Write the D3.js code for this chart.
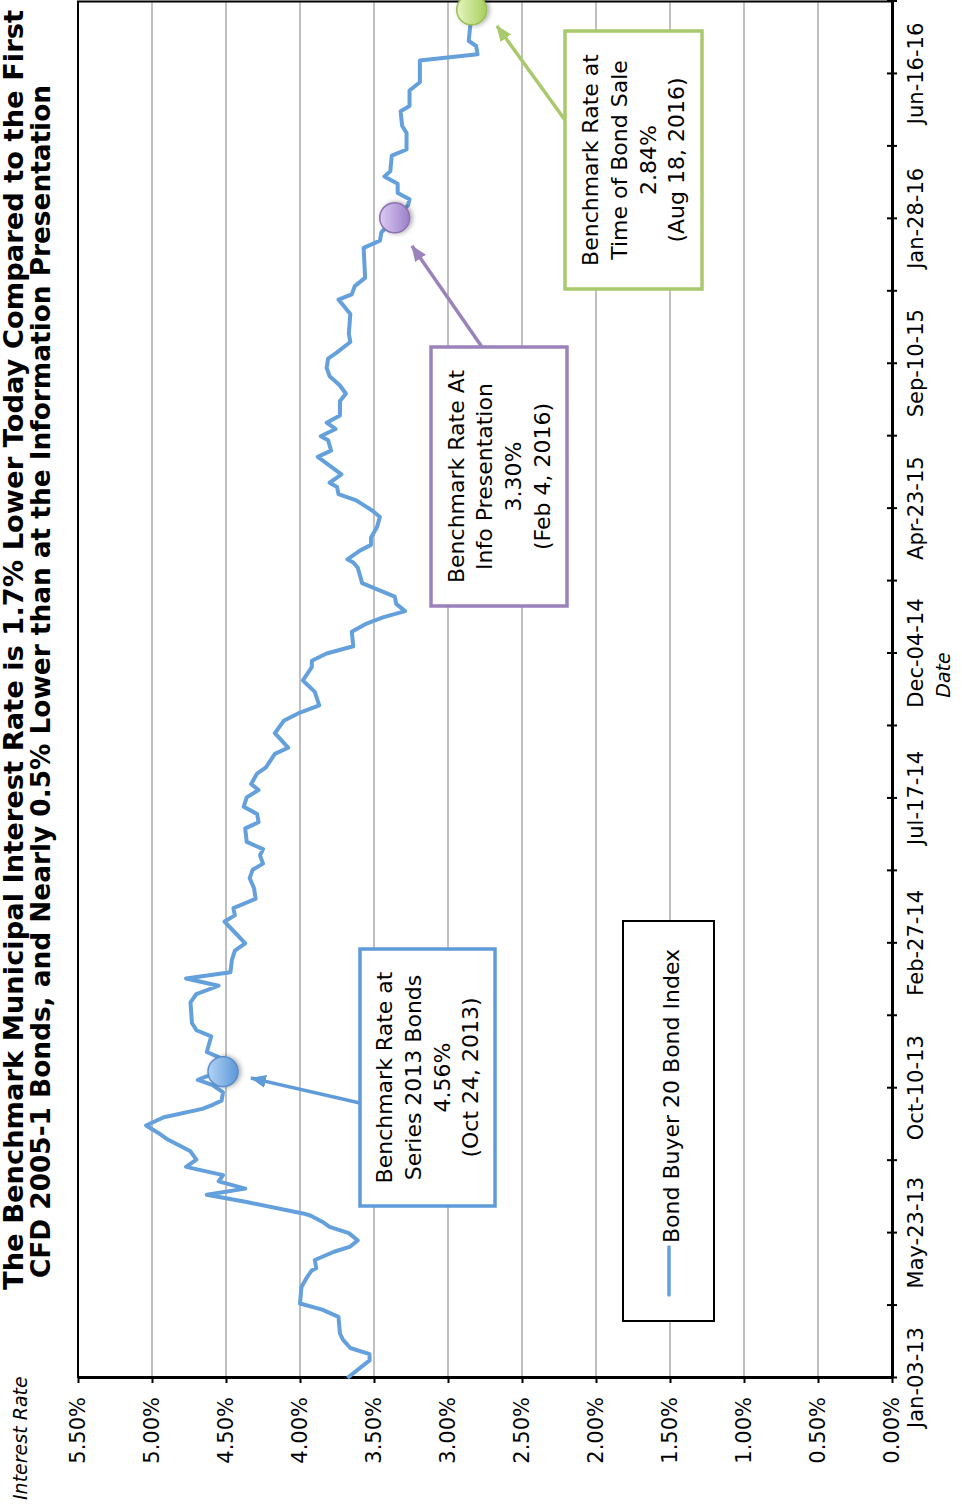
<!DOCTYPE html>
<html>
<head>
<meta charset="utf-8">
<script src="https://cdn.jsdelivr.net/npm/d3@7"></script>
<style>
  body { margin: 0; background: #fff; }
  svg { display: block; }
  text { font-family: "DejaVu Sans", sans-serif; }
</style>
</head>
<body>
<div id="chart"></div>
<script>
// Bond Buyer 20 index: days after Jan-03-13 and rate in %
var startDate = new Date(2013, 0, 3);
var dayOffsets = [
  0, 17, 23, 29, 37, 43, 59, 66, 72, 88,
  98, 104, 106, 114, 122, 127, 133, 140, 146, 151,
  157, 159, 170, 177, 183, 190, 196, 204, 211, 219,
  231, 237, 244, 252, 260, 264, 268, 276, 283, 288,
  291, 296, 310, 315, 330, 336, 343, 363, 371, 379,
  386, 392, 404, 413, 420, 429, 441, 447, 454, 463,
  473, 483, 491, 497, 505, 511, 518, 531, 537, 545,
  552, 561, 568, 574, 584, 590, 603, 609, 623, 635,
  643, 650, 663, 674, 687, 693, 700, 707, 721, 729,
  735, 741, 748, 755, 768, 783, 788, 791, 799, 805,
  812, 822, 832, 838, 848, 854, 861, 865, 873, 890,
  896, 906, 910, 917, 923, 930, 944, 951, 959, 968,
  976, 985, 991, 1001, 1009, 1028, 1042, 1047, 1055, 1063,
  1092, 1099, 1107, 1121, 1133, 1139, 1145, 1154, 1161, 1166,
  1181, 1187, 1197, 1203, 1210, 1224, 1229, 1244, 1252, 1273,
  1279, 1287, 1292, 1306, 1322
];
var rates = [
  3.68, 3.53, 3.53, 3.66, 3.71, 3.73, 3.74, 3.85, 4.00, 3.99,
  3.95, 3.92, 3.89, 3.90, 3.77, 3.66, 3.61, 3.67, 3.80, 3.85,
  3.93, 3.98, 4.36, 4.63, 4.37, 4.55, 4.52, 4.77, 4.70, 4.74,
  4.90, 4.96, 5.04, 4.92, 4.66, 4.59, 4.53, 4.52, 4.59, 4.69,
  4.64, 4.52, 4.55, 4.63, 4.60, 4.70, 4.73, 4.74, 4.70, 4.55,
  4.77, 4.47, 4.46, 4.44, 4.37, 4.43, 4.51, 4.44, 4.45, 4.30,
  4.31, 4.34, 4.32, 4.25, 4.27, 4.25, 4.36, 4.37, 4.28, 4.29,
  4.38, 4.36, 4.28, 4.33, 4.29, 4.23, 4.17, 4.08, 4.17, 4.11,
  4.00, 3.87, 3.90, 3.98, 3.92, 3.92, 3.82, 3.64, 3.65, 3.55,
  3.44, 3.29, 3.35, 3.36, 3.58, 3.61, 3.64, 3.68, 3.60, 3.52,
  3.52, 3.48, 3.46, 3.51, 3.62, 3.74, 3.75, 3.80, 3.72, 3.88,
  3.79, 3.81, 3.86, 3.76, 3.82, 3.73, 3.73, 3.69, 3.73, 3.80,
  3.82, 3.81, 3.75, 3.66, 3.67, 3.66, 3.74, 3.65, 3.63, 3.56,
  3.57, 3.46, 3.45, 3.36, 3.27, 3.26, 3.34, 3.34, 3.43, 3.39,
  3.38, 3.28, 3.28, 3.28, 3.31, 3.32, 3.26, 3.26, 3.19, 3.19,
  2.80, 2.81, 2.86, 2.85, 2.84
];

var rateTicks = [0, 0.5, 1, 1.5, 2, 2.5, 3, 3.5, 4, 4.5, 5, 5.5];
var dateTickOffsets = d3.range(0, 1331, 70);   // a tick every 70 days, label every other one
var endOffset = 1330;

var seriesName = "Bond Buyer 20 Bond Index";
var calloutDays = [296, 1121, 1322];
var calloutRates = [4.52, 3.36, 2.84];
var calloutText = [
  ["Benchmark Rate at", "Series 2013 Bonds", "4.56%", "(Oct 24, 2013)"],
  ["Benchmark Rate At", "Info Presentation", "3.30%", "(Feb 4, 2016)"],
  ["Benchmark Rate at", "Time of Bond Sale", "2.84%", "(Aug 18, 2016)"]
];
var titleLines = [
  "The Benchmark Municipal Interest Rate is 1.7% Lower Today Compared to the First",
  "CFD 2005-1 Bonds, and Nearly 0.5% Lower than at the Information Presentation"
];

var data = dayOffsets.map(function (d, i) {
  return { date: d3.timeDay.offset(startDate, d), rate: rates[i] };
});

// the chart is drawn landscape and then turned a quarter turn to the left
var svg = d3.select("#chart").append("svg")
  .attr("width", 962)
  .attr("height", 1505);
var defs = svg.append("defs");
var g = svg.append("g").attr("transform", "translate(0,1505) rotate(-90)");

var x = d3.scaleTime()
  .domain([startDate, d3.timeDay.offset(startDate, endOffset)])
  .range([127, 1503.5]);
var y = d3.scaleLinear().domain([0, 5.5]).range([892, 78]);

var lineColor = "#64a0dc";
var styles = [
  { stroke: "#5f9bd8", light: "#b3d3f6", dark: "#5b97d6", ring: "#5a8ccb" },
  { stroke: "#9a82bb", light: "#dccbf2", dark: "#9c7fc8", ring: "#8a70b0" },
  { stroke: "#a8c96c", light: "#e6f5c0", dark: "#a6cf5c", ring: "#9abd56" }
];

// gradients and a soft shadow for the callout dots
styles.forEach(function (s, i) {
  var lg = defs.append("linearGradient").attr("id", "dot" + i)
    .attr("x1", 0).attr("y1", 0).attr("x2", 0).attr("y2", 1);
  lg.append("stop").attr("offset", "0%").attr("stop-color", s.light);
  lg.append("stop").attr("offset", "100%").attr("stop-color", s.dark);
  defs.append("marker").attr("id", "arrow" + i)
    .attr("markerUnits", "userSpaceOnUse")
    .attr("viewBox", "0 -7 16 14")
    .attr("refX", 15).attr("refY", 0)
    .attr("markerWidth", 16).attr("markerHeight", 14)
    .attr("orient", "auto")
    .append("path").attr("d", "M0,-6.5L16,0L0,6.5Z").attr("fill", s.stroke);
});
var shadow = defs.append("filter").attr("id", "shadow")
  .attr("x", "-50%").attr("y", "-50%").attr("width", "200%").attr("height", "200%");
shadow.append("feDropShadow").attr("dx", 0).attr("dy", 2).attr("stdDeviation", 2.5)
  .attr("flood-color", "#000").attr("flood-opacity", 0.35);

// horizontal gridlines
g.append("g").selectAll("line")
  .data(rateTicks.filter(function (t) { return t > 0 && t < 5.5; }))
  .enter().append("line")
  .attr("x1", x.range()[0]).attr("x2", x.range()[1])
  .attr("y1", function (d) { return y(d); })
  .attr("y2", function (d) { return y(d); })
  .attr("stroke", "#bfbfbf").attr("stroke-width", 2);

// box on top and right
g.append("path")
  .attr("d", "M" + x.range()[0] + "," + y(5.5) + "H" + x.range()[1] + "V" + y(0))
  .attr("fill", "none").attr("stroke", "#000").attr("stroke-width", 2);

// value axis
var yAxis = d3.axisLeft(y)
  .tickValues(rateTicks)
  .tickFormat(function (d) { return d.toFixed(2) + "%"; })
  .tickSize(5).tickSizeOuter(0).tickPadding(14);
var ya = g.append("g").attr("transform", "translate(" + x.range()[0] + ",0)").call(yAxis);
ya.selectAll("text").attr("font-family", "DejaVu Sans").attr("font-size", 21).attr("fill", "#000");
ya.select(".domain").attr("stroke-width", 3);
ya.selectAll(".tick line").attr("stroke-width", 2);
ya.attr("font-family", null).attr("font-size", null);

// date axis
var fmt = d3.timeFormat("%b-%d-%y");
var xAxis = d3.axisBottom(x)
  .tickValues(dateTickOffsets.map(function (d) { return d3.timeDay.offset(startDate, d); }))
  .tickFormat(function (d, i) { return i % 2 === 0 ? fmt(d) : ""; })
  .tickSize(5).tickSizeOuter(0).tickPadding(11);
var xa = g.append("g").attr("transform", "translate(0," + y(0) + ")").call(xAxis);
xa.selectAll("text").attr("font-family", "DejaVu Sans").attr("font-size", 21).attr("fill", "#000");
xa.select(".domain").attr("stroke-width", 3);
xa.selectAll(".tick line").attr("y1", -5).attr("stroke-width", 2);
xa.attr("font-family", null).attr("font-size", null);

// axis titles
g.append("text").attr("x", 5).attr("y", 27)
  .attr("font-size", 19).attr("font-style", "italic")
  .text("Interest Rate");
g.append("text").attr("x", 830).attr("y", 950)
  .attr("text-anchor", "middle")
  .attr("font-size", 19).attr("font-style", "italic")
  .text("Date");

// the index line
g.append("path")
  .datum(data)
  .attr("fill", "none")
  .attr("stroke", lineColor)
  .attr("stroke-width", 4)
  .attr("stroke-linejoin", "round")
  .attr("d", d3.line()
    .x(function (d) { return x(d.date); })
    .y(function (d) { return y(d.rate); }));

// callout boxes, arrows and dots (box layout in px of the landscape frame)
var boxes = [
  { x0: 299, x1: 556, y0: 360, y1: 495, from: [402, 360], to: [427, 251] },
  { x0: 899, x1: 1158, y0: 431, y1: 567, from: [1158, 482], to: [1259, 412] },
  { x0: 1216, x1: 1474, y0: 565, y1: 702, from: [1385, 565], to: [1479, 497] }
];

boxes.forEach(function (b, i) {
  var s = styles[i];
  g.append("line")
    .attr("x1", b.from[0]).attr("y1", b.from[1])
    .attr("x2", b.to[0]).attr("y2", b.to[1])
    .attr("stroke", s.stroke).attr("stroke-width", 3.5)
    .attr("marker-end", "url(#arrow" + i + ")");
  g.append("rect")
    .attr("x", b.x0).attr("y", b.y0)
    .attr("width", b.x1 - b.x0).attr("height", b.y1 - b.y0)
    .attr("fill", "#fff").attr("stroke", s.stroke).attr("stroke-width", 3.5);
  var cx = (b.x0 + b.x1) / 2, cy = (b.y0 + b.y1) / 2;
  var t = g.append("text").attr("text-anchor", "middle").attr("font-size", 22);
  calloutText[i].forEach(function (line, k) {
    t.append("tspan").attr("x", cx)
      .attr("y", cy + (k - 1.5) * 28.8)
      .attr("dy", "0.35em")
      .text(line);
  });
});

g.append("g").selectAll("circle")
  .data(calloutDays)
  .enter().append("circle")
  .attr("cx", function (d) { return x(d3.timeDay.offset(startDate, d)); })
  .attr("cy", function (d, i) { return y(calloutRates[i]); })
  .attr("r", 15)
  .attr("fill", function (d, i) { return "url(#dot" + i + ")"; })
  .attr("stroke", function (d, i) { return styles[i].ring; })
  .attr("stroke-width", 1.5)
  .attr("filter", "url(#shadow)");

// legend
var legend = g.append("g");
legend.append("rect")
  .attr("x", 184).attr("y", 623).attr("width", 400).attr("height", 91)
  .attr("fill", "#fff").attr("stroke", "#000").attr("stroke-width", 2);
legend.append("line")
  .attr("x1", 210).attr("x2", 258).attr("y1", 669).attr("y2", 669)
  .attr("stroke", lineColor).attr("stroke-width", 3.5).attr("stroke-linecap", "round");
legend.append("text").attr("x", 262).attr("y", 679)
  .attr("font-size", 22).text(seriesName);

// title
var titleX = [215, 227], titleY = [23, 50], titleLen = [1280, 1193];
titleLines.forEach(function (line, i) {
  g.append("text")
    .attr("x", titleX[i]).attr("y", titleY[i])
    .attr("font-family", "Liberation Sans, Arial, sans-serif")
    .attr("font-weight", "bold")
    .attr("font-size", 26)
    .attr("textLength", titleLen[i])
    .attr("lengthAdjust", "spacingAndGlyphs")
    .text(line);
});
</script>
</body>
</html>
